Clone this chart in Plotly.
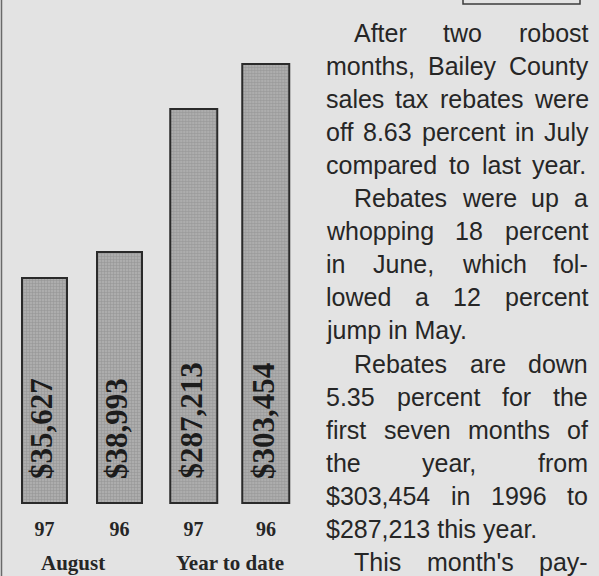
import plotly.graph_objects as go

# ---------------- data ----------------
periods = ["August", "Year to date"]
years = ["97", "96"]
august_values = [35627, 38993]
ytd_values = [287213, 303454]

# article text beside the chart: (printed line, starts a paragraph, justified)
article_lines = [
    ("After two robost", True, True),
    ("months, Bailey County", False, True),
    ("sales tax rebates were", False, True),
    ("off 8.63 percent in July", False, True),
    ("compared to last year.", False, True),
    ("Rebates were up a", True, True),
    ("whopping 18 percent", False, True),
    ("in June, which fol-", False, True),
    ("lowed a 12 percent", False, True),
    ("jump in May.", False, False),
    ("Rebates are down", True, True),
    ("5.35 percent for the", False, True),
    ("first seven months of", False, True),
    ("the year, from", False, True),
    ("$303,454 in 1996 to", False, True),
    ("$287,213 this year.", False, False),
    ("This month's pay-", True, True),
]

# ---------------- layout / style ----------------
W, H = 599, 576
BG = "#e3e3e3"
INK = "#262626"
BAR_FILL = "#adadad"
BAR_DOT = "#707070"
BAR_EDGE = "#2a2a2a"

AUG_BASE, AUG_RANGE = 6500, [6238, 71619]
YTD_BASE, YTD_RANGE = 145000, [144278, 326536]
Y_DOMAIN = [1 - 505 / H, 1]

# column geometry (pixels)
COL_LEFT, COL_RIGHT, INDENT = 325, 587, 28
ROW0, ROW_STEP = 33, 33.05
TEXT_SIZE = 25

# Arial / Liberation Sans advance widths (1/1000 em) for justification
ADV = {" ": 278, "$": 556, "'": 191, ",": 278, "-": 333, ".": 278,
       "A": 667, "B": 667, "C": 722, "J": 500, "M": 833, "R": 722, "T": 611,
       "a": 556, "b": 556, "c": 500, "d": 556, "e": 556, "f": 278, "g": 556,
       "h": 556, "i": 222, "j": 222, "k": 500, "l": 222, "m": 833, "n": 556,
       "o": 556, "p": 556, "q": 556, "r": 333, "s": 500, "t": 278, "u": 556,
       "v": 500, "w": 722, "x": 500, "y": 500, "z": 500}
for d in "0123456789":
    ADV[d] = 556


def text_width(s, size):
    return sum(ADV.get(ch, 556) for ch in s) * size / 1000.0


fig = go.Figure()

bar_marker = dict(
    color=BAR_FILL,
    line=dict(color=BAR_EDGE, width=2),
    pattern=dict(shape="+", fgcolor=BAR_DOT, bgcolor=BAR_FILL, size=3, solidity=0.25),
)

fig.add_trace(go.Bar(
    x=years, y=[v - AUG_BASE for v in august_values], base=AUG_BASE,
    width=0.6, marker=bar_marker, xaxis="x", yaxis="y",
    customdata=august_values, hovertemplate="%{customdata:$,}<extra>August</extra>",
))
fig.add_trace(go.Bar(
    x=years, y=[v - YTD_BASE for v in ytd_values], base=YTD_BASE,
    width=0.645, marker=bar_marker, xaxis="x2", yaxis="y2",
    customdata=ytd_values, hovertemplate="%{customdata:$,}<extra>Year to date</extra>",
))

annotations = []
# value labels written up the bars (x given as category index)
for xref, yref, base, vals in (("x", "y", AUG_BASE, august_values), ("x2", "y2", YTD_BASE, ytd_values)):
    for idx, v in enumerate(vals):
        annotations.append(dict(
            x=idx, y=base, xref=xref, yref=yref, text=f"${v:,}", showarrow=False,
            textangle=-90, xanchor="center", yanchor="bottom", yshift=22, xshift=-3,
            font=dict(family="Liberation Serif", size=31, color="#1c1c1c", weight="bold"),
        ))

# group labels
for label, px in zip(periods, (73, 230)):
    annotations.append(dict(
        x=px / W, y=1 - 563 / H, xref="paper", yref="paper", text=label, showarrow=False,
        xanchor="center", yanchor="middle",
        font=dict(family="Liberation Serif", size=21, color=INK, weight="bold"),
    ))

# justified article column
for k, (line, para_start, justified) in enumerate(article_lines):
    row = ROW0 + k * ROW_STEP
    left = COL_LEFT + (INDENT if para_start else 0)
    words = line.split(" ")
    if justified and len(words) > 1:
        total = sum(text_width(w, TEXT_SIZE) for w in words)
        gap = (COL_RIGHT - left - total) / (len(words) - 1)
        xcur = left
        placements = []
        for w in words:
            placements.append((w, xcur))
            xcur += text_width(w, TEXT_SIZE) + gap
    else:
        placements = [(line, left)]
    for w, xp in placements:
        annotations.append(dict(
            x=xp / W, y=1 - row / H, xref="paper", yref="paper", text=w, showarrow=False,
            xanchor="left", yanchor="middle", borderpad=0,
            font=dict(family="Liberation Sans", size=TEXT_SIZE, color=INK),
        ))

shapes = [
    # left column rule
    dict(type="line", xref="paper", yref="paper", x0=1.5 / W, x1=1.5 / W, y0=0, y1=1,
         line=dict(color="#6a6a6a", width=1.5)),
    # bottom of the boxed element cut off at the top
    dict(type="rect", xref="paper", yref="paper", x0=463 / W, x1=580 / W, y0=1 - 4 / H, y1=1.05,
         line=dict(color="#3c3c3c", width=1.5)),
]

axis_common = dict(showgrid=False, zeroline=False, showline=False, ticks="")
tickfont = dict(family="Liberation Serif", size=20, color=INK, weight="bold")
fig.update_layout(
    width=W, height=H,
    margin=dict(l=0, r=0, t=0, b=0),
    paper_bgcolor=BG, plot_bgcolor="rgba(0,0,0,0)",
    showlegend=False, bargap=0,
    xaxis=dict(domain=[7 / W, 157 / W], type="category", categoryorder="array",
               categoryarray=years, range=[-0.5, 1.5], anchor="y",
               ticklabelstandoff=10, tickfont=tickfont, **axis_common),
    xaxis2=dict(domain=[157.25 / W, 302.25 / W], type="category", categoryorder="array",
                categoryarray=years, range=[-0.5, 1.5], anchor="y2",
                ticklabelstandoff=10, tickfont=tickfont, **axis_common),
    yaxis=dict(domain=Y_DOMAIN, range=AUG_RANGE, anchor="x", showticklabels=False, **axis_common),
    yaxis2=dict(domain=Y_DOMAIN, range=YTD_RANGE, anchor="x2", showticklabels=False, **axis_common),
    annotations=annotations,
    shapes=shapes,
)

fig.write_html(
    "out.html",
    config={"displayModeBar": False},
    post_script="document.body.style.margin='0px';document.body.style.background='" + BG + "';",
)
